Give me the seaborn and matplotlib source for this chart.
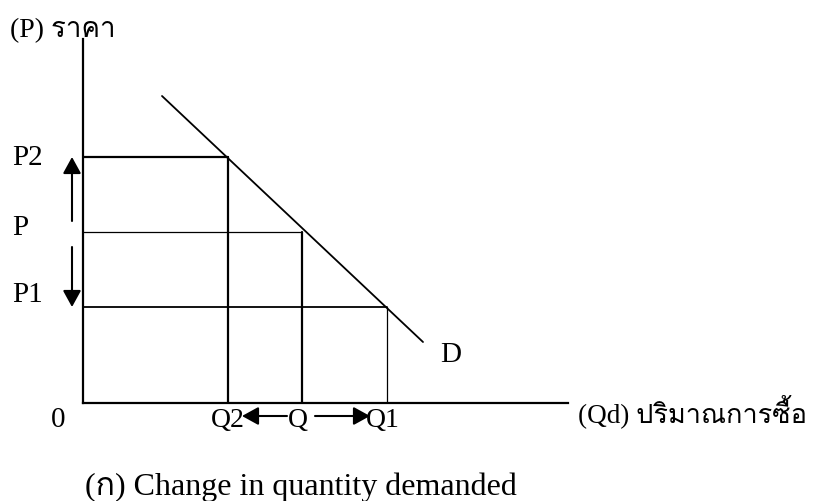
import matplotlib
matplotlib.use("Agg")
import matplotlib.pyplot as plt
import seaborn as sns
import pandas as pd
from matplotlib import font_manager

# ---- data (chart units) ----
price_labels = ["P1", "P", "P2"]
price_values = [9.6, 17.1, 24.6]
qty_labels = ["Q1", "Q", "Q2"]
qty_values = [30.4, 21.9, 14.5]
demand_q = [7.9, 34.0]
demand_p = [30.7, 6.1]
x_max = 48.5
y_max = 36.4
y_title = "(P) ราคา"
x_title = "(Qd) ปริมาณการซื้อ"
curve_label = "D"
origin_label = "0"
caption = "(ก) Change in quantity demanded"


def find_thai_font():
    try:
        from fontTools.ttLib import TTFont
    except Exception:
        return None
    for f in font_manager.fontManager.ttflist:
        try:
            tt = TTFont(f.fname, fontNumber=0, lazy=True)
            cmap = tt.getBestCmap()
            if cmap and 0x0E23 in cmap and 0x0E32 in cmap and 0x0E04 in cmap:
                return f.name
        except Exception:
            continue
    return None


sns.set_theme(style="white")
thai = find_thai_font()
fams = ["Liberation Serif"] + ([thai] if thai else []) + ["DejaVu Sans"]
plt.rcParams["font.family"] = fams

fig = plt.figure(figsize=(8.2, 5.02), dpi=100)
fig.patch.set_facecolor("white")
ax = fig.add_axes([83 / 820, 98 / 502, 485 / 820, 364 / 502])
ax.set_xlim(0, x_max)
ax.set_ylim(0, y_max)
for s in ["top", "right"]:
    ax.spines[s].set_visible(False)
for s in ["left", "bottom"]:
    ax.spines[s].set_color("black")
    ax.spines[s].set_linewidth(1.6)
ax.set_xticks([])
ax.set_yticks([])
ax.set_facecolor("white")

# demand curve
dem = pd.DataFrame({"q": demand_q, "p": demand_p})
sns.lineplot(data=dem, x="q", y="p", ax=ax, color="black", linewidth=1.3,
             estimator=None, sort=False)

# guide lines
hl_w = {"P1": 1.3, "P": 0.9, "P2": 1.6}
vl_w = {"Q1": 0.9, "Q": 1.6, "Q2": 1.6}
for pl, pv, ql, qv in zip(price_labels, price_values, qty_labels, qty_values):
    seg_h = pd.DataFrame({"q": [0, qv], "p": [pv, pv]})
    sns.lineplot(data=seg_h, x="q", y="p", ax=ax, color="black", linewidth=hl_w[pl],
                 estimator=None, sort=False)
    seg_v = pd.DataFrame({"q": [qv, qv], "p": [0, pv]})
    sns.lineplot(data=seg_v, x="q", y="p", ax=ax, color="black", linewidth=vl_w[ql],
                 estimator=None, sort=False)
ax.set_xlabel("")
ax.set_ylabel("")

fs = 21
txt = dict(color="black", clip_on=False)
for pl, pv in zip(price_labels, price_values):
    y = pv + (0.5 if pl == "P" else (1.3 if pl == "P1" else 0))
    ax.text(-7.1, y, pl, ha="left", va="center", fontsize=fs, **txt)
for ql, qv in zip(qty_labels, qty_values):
    ax.text(qv - (0.4 if ql != "Q2" else 0), -1.7, ql, ha="center", va="center", fontsize=fs - 1, **txt)
ax.text(-2.5, -1.6, origin_label, ha="center", va="center", fontsize=fs, **txt)
ax.text(-7.3, 37.3, y_title, ha="left", va="center", fontsize=20, **txt)
ax.text(49.5, -0.7, x_title, ha="left", va="center", fontsize=19.5, **txt)
ax.text(35.7, 4.9, curve_label, ha="left", va="center", fontsize=fs, **txt)
ax.text(0.2, -9.1, caption, ha="left", va="baseline", fontsize=23, **txt)

# arrows
astyle = "-|>,head_length=1.0,head_width=0.55"
def arrow(x0, y0, x1, y1):
    ax.annotate("", xy=(x1, y1), xytext=(x0, y0), xycoords="data",
                arrowprops=dict(arrowstyle=astyle, color="black", lw=1.5,
                                mutation_scale=10, shrinkA=0, shrinkB=0),
                annotation_clip=False)

arrow(-1.1, 18.2, -1.1, price_values[2])
arrow(-1.1, 15.6, -1.1, price_values[0])
arrow(20.4, -1.3, 15.9, -1.3)
arrow(23.2, -1.3, 28.7, -1.3)

fig.savefig("out.png", dpi=100, facecolor="white")
